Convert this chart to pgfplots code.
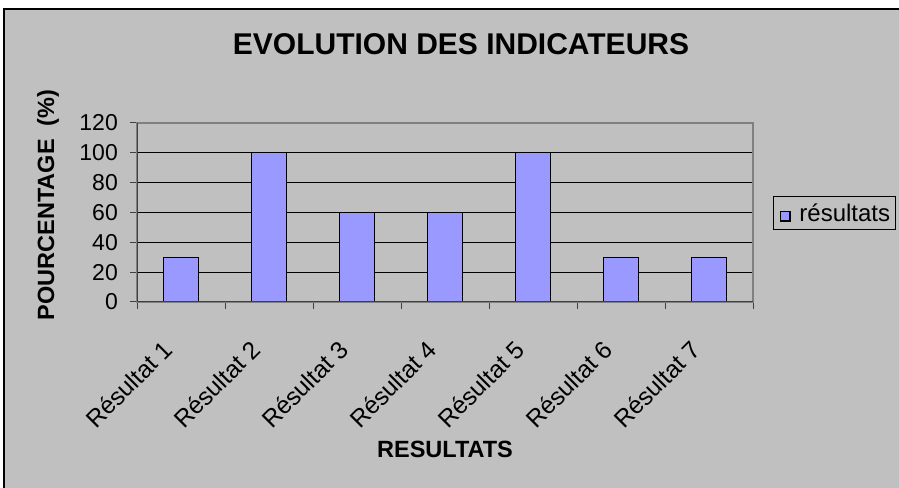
\documentclass[border=0pt]{standalone}
\usepackage{fontspec}
\setmainfont{Liberation Sans}
\usepackage{pgfplots}
\pgfplotsset{compat=1.18}
\definecolor{bg}{HTML}{C0C0C0}
\definecolor{barc}{HTML}{9999FF}
\definecolor{axgray}{HTML}{808080}
\definecolor{axdark}{HTML}{404040}
\begin{document}
\begin{tikzpicture}[x=1pt,y=1pt]
\path[use as bounding box,fill=white] (0,0) rectangle (899,487);
\fill[bg] (4,-5) rectangle (910,478);
\draw[black,line width=2pt] (4,-5) -- (4,478) -- (910,478);
\node[font=\bfseries\fontsize{30}{36}\selectfont,anchor=base] at (461,432) {EVOLUTION DES INDICATEURS};
\node[font=\bfseries\fontsize{23.5}{28}\selectfont,rotate=90] at (48,282) {POURCENTAGE\ \ (\%)};
\node[font=\bfseries\fontsize{23.5}{28}\selectfont,anchor=base] at (445,29) {RESULTATS};
\begin{axis}[
  at={(137pt,185pt)}, anchor=south west,
  scale only axis, width=616pt, height=179pt,
  xmin=0.5, xmax=7.5, ymin=0, ymax=120,
  ytick={0,20,...,120},
  xtick={0.5,1.5,...,7.5}, xticklabels={},
  extra x ticks={1,2,3,4,5,6,7},
  extra x tick labels={Résultat 1,Résultat 2,Résultat 3,Résultat 4,Résultat 5,Résultat 6,Résultat 7},
  extra x tick style={major tick length=0pt, grid=none},
  xtick pos=bottom, ytick pos=left,
  tick align=outside, major tick length=7pt,
  tick style={draw=axdark, line width=1pt},
  axis line style={draw=axgray, line width=1.2pt},
  ymajorgrids, grid style={black, line width=0.9pt},
  /pgf/number format/assume math mode=true,
  yticklabel style={font=\fontsize{23}{27}\selectfont, anchor=east, inner sep=0pt, xshift=-12pt},
  xticklabel style={font=\fontsize{24.5}{28}\selectfont, xshift=-13pt, yshift=-43pt, rotate=45, anchor=east, inner sep=0pt},
  ybar, bar width=35pt,
  legend style={at={(1.0325,0.497)}, anchor=west, draw=black, fill=none, line width=0.8pt,
    font=\fontsize{24}{28}\selectfont, inner xsep=3pt, inner ysep=5pt},
  legend image code/.code={\path[draw=none,fill=none] (-4pt,0pt) -- (17pt,0pt);
    \draw[draw=black,fill=barc,line width=1.5pt] (0pt,-8pt) rectangle (9.5pt,1.5pt);},
]
\addplot[draw=black, fill=barc, line width=1.2pt] coordinates {(1,30) (2,100) (3,60) (4,60) (5,100) (6,30) (7,30)};
\addlegendentry{résultats}
\draw[axdark, line width=1.3pt] (rel axis cs:0,1) -- (rel axis cs:0,0) -- (rel axis cs:1,0);
\end{axis}
\end{tikzpicture}
\end{document}
